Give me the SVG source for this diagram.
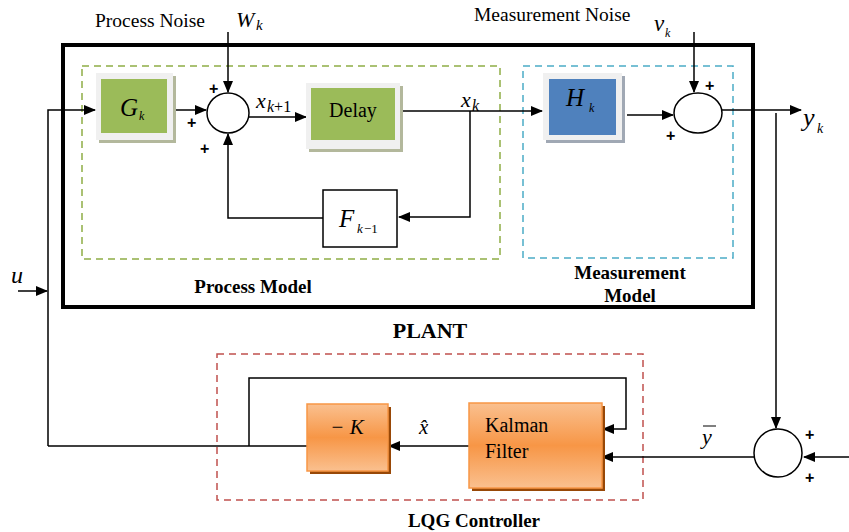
<svg xmlns="http://www.w3.org/2000/svg" width="849" height="532" viewBox="0 0 849 532">
<style>
.ln{fill:none;stroke:#000;stroke-width:1.5}
.t{font-family:"Liberation Serif","Times New Roman",serif;fill:#000}
.m{font-family:"Liberation Serif","Times New Roman",serif;font-style:italic;fill:#000}
.b{font-family:"Liberation Serif","Times New Roman",serif;font-weight:bold;fill:#000}
.pl{font-family:"Liberation Sans",Arial,sans-serif;font-weight:bold;font-size:16px;fill:#000}
.sum{fill:#fff;stroke:#000;stroke-width:1.5}
</style>
<defs>
<marker id="ah" markerWidth="12" markerHeight="10" refX="11" refY="5" orient="auto" markerUnits="userSpaceOnUse">
<path d="M0,0 L12,5 L0,10 Z" fill="#000"/>
</marker>
<linearGradient id="og" x1="0" y1="0" x2="0" y2="1">
<stop offset="0" stop-color="#fac08f"/>
<stop offset="0.5" stop-color="#f79646"/>
<stop offset="1" stop-color="#fac08f"/>
</linearGradient>
</defs>
<rect width="849" height="532" fill="#fff"/>

<!-- containers -->
<g id="plant">
<rect x="63" y="45" width="690" height="262" fill="none" stroke="#000" stroke-width="4"/>
<text class="b" x="430" y="338" font-size="22" text-anchor="middle">PLANT</text>
</g>
<g id="process-model">
<rect x="82" y="66" width="418" height="193" fill="none" stroke="#8fad46" stroke-width="1.5" stroke-dasharray="7,5"/>
<text class="b" x="253" y="293" font-size="19" text-anchor="middle">Process Model</text>
</g>
<g id="measurement-model">
<rect x="523" y="66" width="210" height="192" fill="none" stroke="#4bacc6" stroke-width="1.5" stroke-dasharray="7,5"/>
<text class="b" x="630" y="279" font-size="19" text-anchor="middle">Measurement</text>
<text class="b" x="630" y="302" font-size="19" text-anchor="middle">Model</text>
</g>
<g id="lqg-controller">
<rect x="217" y="354" width="426" height="146" fill="none" stroke="#c0504d" stroke-width="1.5" stroke-dasharray="7,5"/>
<text class="b" x="474" y="527" font-size="19" text-anchor="middle">LQG Controller</text>
</g>

<!-- connectors -->
<g id="connectors">
<path class="ln" d="M18,291 H47" marker-end="url(#ah)"/>
<path class="ln" d="M48,446 V110 H95" marker-end="url(#ah)"/>
<path class="ln" d="M162,110 H206" marker-end="url(#ah)"/>
<path class="ln" d="M228,32 V92" marker-end="url(#ah)"/>
<path class="ln" d="M249,117 H306" marker-end="url(#ah)"/>
<path class="ln" d="M400,111 H542" marker-end="url(#ah)"/>
<path class="ln" d="M470,111 V217 H399" marker-end="url(#ah)"/>
<path class="ln" d="M323,218 H228 V134" marker-end="url(#ah)"/>
<path class="ln" d="M627,115 H673" marker-end="url(#ah)"/>
<path class="ln" d="M694,32 V92" marker-end="url(#ah)"/>
<path class="ln" d="M722,110 H801" marker-end="url(#ah)"/>
<path class="ln" d="M776,113 V428" marker-end="url(#ah)"/>
<path class="ln" d="M849,457 H804" marker-end="url(#ah)"/>
<path class="ln" d="M754,457 H602" marker-end="url(#ah)"/>
<path class="ln" d="M469,446 H389" marker-end="url(#ah)"/>
<path class="ln" d="M308,446 H48"/>
<path class="ln" d="M249,446 V378 H626 V429 H603" marker-end="url(#ah)"/>
</g>

<!-- nodes -->
<g id="Gk">
<rect x="99" y="76" width="77" height="67" fill="#b3b89c"/>
<rect x="96" y="73" width="77" height="67" fill="#f0f0f0"/>
<rect x="101" y="79" width="66" height="54" fill="#9bbb59"/>
<text class="m" x="120" y="116" font-size="25">G</text>
<text class="m" x="139" y="120" font-size="12">k</text>
</g>
<g id="sum1">
<ellipse class="sum" cx="228" cy="113" rx="21" ry="20"/>
<text class="pl" x="209" y="94">+</text>
<text class="pl" x="187" y="128">+</text>
<text class="pl" x="200" y="154">+</text>
</g>
<g id="delay">
<rect x="309" y="86" width="94" height="66" fill="#b3b89c"/>
<rect x="306" y="83" width="94" height="66" fill="#f0f0f0"/>
<rect x="311" y="88" width="84" height="52" fill="#9bbb59"/>
<text class="t" x="353" y="117" font-size="20" text-anchor="middle">Delay</text>
</g>
<g id="F">
<rect x="323" y="190" width="74" height="57" fill="#fff" stroke="#000" stroke-width="1.5"/>
<text class="m" x="339" y="227" font-size="25">F</text>
<text class="m" x="357" y="233" font-size="13">k</text>
<text class="t" x="364" y="233" font-size="13">−1</text>
</g>
<g id="Hk">
<rect x="546" y="76" width="79" height="67" fill="#a0a8b4"/>
<rect x="543" y="73" width="79" height="67" fill="#f0f0f0"/>
<rect x="549" y="79" width="67" height="56" fill="#4f81bd"/>
<text class="m" x="566" y="106" font-size="25">H</text>
<text class="m" x="589" y="112" font-size="12">k</text>
</g>
<g id="sum2">
<ellipse class="sum" cx="698" cy="113" rx="24" ry="20"/>
<text class="pl" x="705" y="91">+</text>
<text class="pl" x="666" y="141">+</text>
</g>
<g id="sum3">
<circle class="sum" cx="778" cy="453" r="24"/>
<text class="pl" x="805" y="440">+</text>
<text class="pl" x="805" y="483">+</text>
</g>
<g id="minusK">
<rect x="310" y="407" width="81" height="67" fill="#984807"/>
<rect x="307" y="404" width="81" height="67" fill="url(#og)" stroke="#f79646" stroke-width="1.5"/>
<text class="m" x="347" y="434" font-size="21" text-anchor="middle">− K</text>
</g>
<g id="kalman">
<rect x="472" y="406" width="133" height="85" fill="#984807"/>
<rect x="469" y="403" width="133" height="85" fill="url(#og)" stroke="#f79646" stroke-width="1.5"/>
<text class="t" x="485" y="432" font-size="20">Kalman</text>
<text class="t" x="485" y="458" font-size="20">Filter</text>
</g>

<!-- signal labels -->
<g id="labels">
<text class="t" x="95" y="27" font-size="19.5">Process Noise</text>
<text class="m" x="236" y="27" font-size="22">W</text>
<text class="m" x="256" y="30" font-size="15">k</text>
<text class="t" x="474" y="21" font-size="19.5">Measurement Noise</text>
<text class="m" x="654" y="31" font-size="23">v</text>
<text class="m" x="665" y="37" font-size="12">k</text>
<text class="m" x="256" y="108" font-size="22">x</text>
<text class="m" x="267" y="112" font-size="16">k<tspan font-style="normal">+1</tspan></text>
<text class="m" x="461" y="107" font-size="22">x</text>
<text class="m" x="472" y="111" font-size="16">k</text>
<text class="m" x="803" y="126" font-size="26">y</text>
<text class="m" x="817" y="133" font-size="14">k</text>
<text class="m" x="11" y="283" font-size="24">u</text>
<text class="m" x="419" y="434" font-size="21">x̂</text>
<text class="m" x="702" y="444" font-size="22">y</text>
<path d="M703,426 H716" stroke="#000" stroke-width="1"/>
</g>
</svg>
